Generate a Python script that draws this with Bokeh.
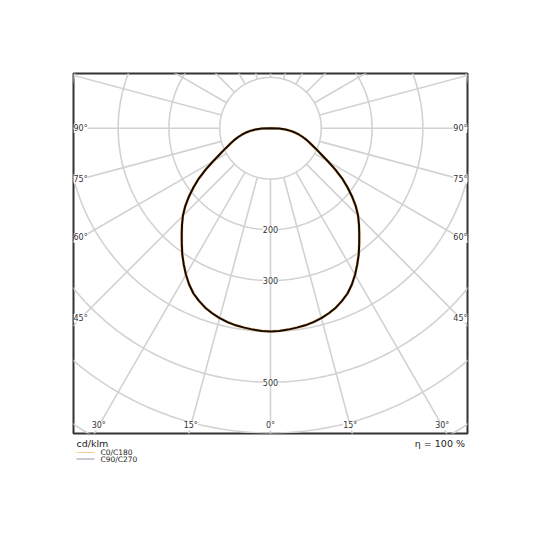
import numpy as np
from bokeh.plotting import figure
from bokeh.models import ColumnDataSource, LabelSet, Range1d
from bokeh.layouts import column
from bokeh.core.properties import value
from bokeh.embed import file_html
from bokeh.resources import INLINE

# ---- data (cd/klm) ----
gamma_deg = [0, 2.5, 5, 7.5, 10, 12.5, 15, 17.5, 20, 22.5, 25, 27.5, 30, 32.5, 35, 37.5,
             40, 42.5, 45, 47.5, 50, 52.5, 55, 57.5, 60, 62.5, 65, 67.5, 70, 72.5, 75,
             77.5, 80, 82.5, 85, 87.5, 90]
c0_c180 = [400, 399.5, 398, 396, 394, 391, 387, 382, 376, 368, 359, 347, 333, 318, 303, 287,
           272, 258, 244, 228, 210, 191, 172, 151, 131, 114, 101, 90, 81, 73, 65,
           57, 49, 40, 30, 17, 0]
c90_c270 = [400, 399.5, 398, 396, 394, 391, 387, 382, 376, 368, 359, 347, 333, 318, 303, 287,
            272, 258, 244, 228, 210, 191, 172, 151, 131, 114, 101, 90, 81, 73, 65,
            57, 49, 40, 30, 17, 0]
ring_values = [100, 200, 300, 400, 500, 600, 700]
ring_labels = [200, 300, 500]
spoke_step = 15
side_label_angles = [90, 75, 60, 45]
bottom_label_angles = [-30, -15, 0, 15, 30]
unit_text = "cd/klm"
eta_text = "η = 100 %"
series_names = ["C0/C180", "C90/C270"]

FONT = value("DejaVu Sans")
GRID = "#d2d2d2"
TXT = "#333333"

XR = 388.0
YT, YB = 107.7, -601.0

p = figure(width=524, height=435, output_backend="svg", toolbar_location=None,
           x_range=Range1d(-XR, XR), y_range=Range1d(YB, YT),
           min_border_left=73, min_border_right=57, min_border_top=73, min_border_bottom=2,
           title=None)
p.axis.visible = False
p.xgrid.visible = False
p.ygrid.visible = False
p.outline_line_color = "#333333"
p.outline_line_width = 2
p.background_fill_color = "white"
p.border_fill_color = "white"

# rings
t = np.linspace(0, 2 * np.pi, 361)
p.multi_line([list(r * np.cos(t)) for r in ring_values],
             [list(r * np.sin(t)) for r in ring_values],
             line_color=GRID, line_width=1.6)

# spokes
angs = np.radians(np.arange(0, 360, spoke_step))
r0, r1 = ring_values[0], 900
p.multi_line([[r0 * np.sin(a), r1 * np.sin(a)] for a in angs],
             [[-r0 * np.cos(a), -r1 * np.cos(a)] for a in angs],
             line_color=GRID, line_width=1.6)

# curves
def curve(vals):
    g = np.radians(np.array(gamma_deg, dtype=float))
    v = np.array(vals, dtype=float)
    gg = np.concatenate([-g[::-1], g[1:]])
    vv = np.concatenate([v[::-1], v[1:]])
    return list(vv * np.sin(gg)), list(-vv * np.cos(gg))

x0, y0 = curve(c0_c180)
x1, y1 = curve(c90_c270)
p.line(x0, y0, line_color="#f2c48a", line_width=2.8, line_join="round")
p.line(x1, y1, line_color="#150a02", line_width=2.0, line_join="round")

# ring labels
rsrc = ColumnDataSource(dict(x=[0] * len(ring_labels), y=[-v for v in ring_labels],
                             text=[str(v) for v in ring_labels]))
p.add_layout(LabelSet(x="x", y="y", text="text", source=rsrc, text_align="center",
                      text_baseline="middle", text_font_size=value("8px"), text_font=FONT,
                      text_color=value(TXT), background_fill_color="white"))

# angle labels
inset_x = XR - 14
lx, ly, lt = [], [], []
for a in side_label_angles:
    yy = 0.0 if a == 90 else -inset_x / np.tan(np.radians(a))
    for s in (-1, 1):
        lx.append(s * inset_x); ly.append(yy); lt.append(f"{a}°")
yb = YB + 15
for a in bottom_label_angles:
    lx.append(-yb * np.tan(np.radians(a))); ly.append(yb); lt.append(f"{abs(a)}°")
asrc = ColumnDataSource(dict(x=lx, y=ly, text=lt))
p.add_layout(LabelSet(x="x", y="y", text="text", source=asrc, text_align="center",
                      text_baseline="middle", text_font_size=value("8px"), text_font=FONT,
                      text_color=value(TXT), background_fill_color="white"))

# footer (coordinates in page pixels; frame aligned with the plot frame above)
f = figure(width=524, height=40, output_backend="svg", toolbar_location=None,
           x_range=Range1d(73, 467), y_range=Range1d(475, 435),
           min_border_left=73, min_border_right=57, min_border_top=0, min_border_bottom=0,
           title=None)
f.axis.visible = False
f.xgrid.visible = False
f.ygrid.visible = False
f.outline_line_color = None
f.border_fill_color = "white"

f.text(x=[76], y=[442.8], text=[unit_text], text_font=FONT, text_font_size="9.5px",
       text_color="#222222", text_align="left", text_baseline="alphabetic")
f.text(x=[464.5], y=[442.8], text=[eta_text], text_font=FONT, text_font_size="9.5px",
       text_color="#222222", text_align="right", text_baseline="alphabetic")
leg_colors = ["#f5cf9a", "#8e9aa6"]
leg_y = [452.0, 458.5]
f.multi_line([[76, 94], [76, 94]], [[leg_y[0], leg_y[0]], [leg_y[1], leg_y[1]]],
             line_color=leg_colors, line_width=1.2)
f.text(x=[100, 100], y=leg_y, text=series_names, text_font=FONT, text_font_size="7.5px",
       text_color="#222222", text_align="left", text_baseline="middle")

layout = column(p, f, spacing=0)
open("out.html", "w").write(file_html(layout, INLINE))
